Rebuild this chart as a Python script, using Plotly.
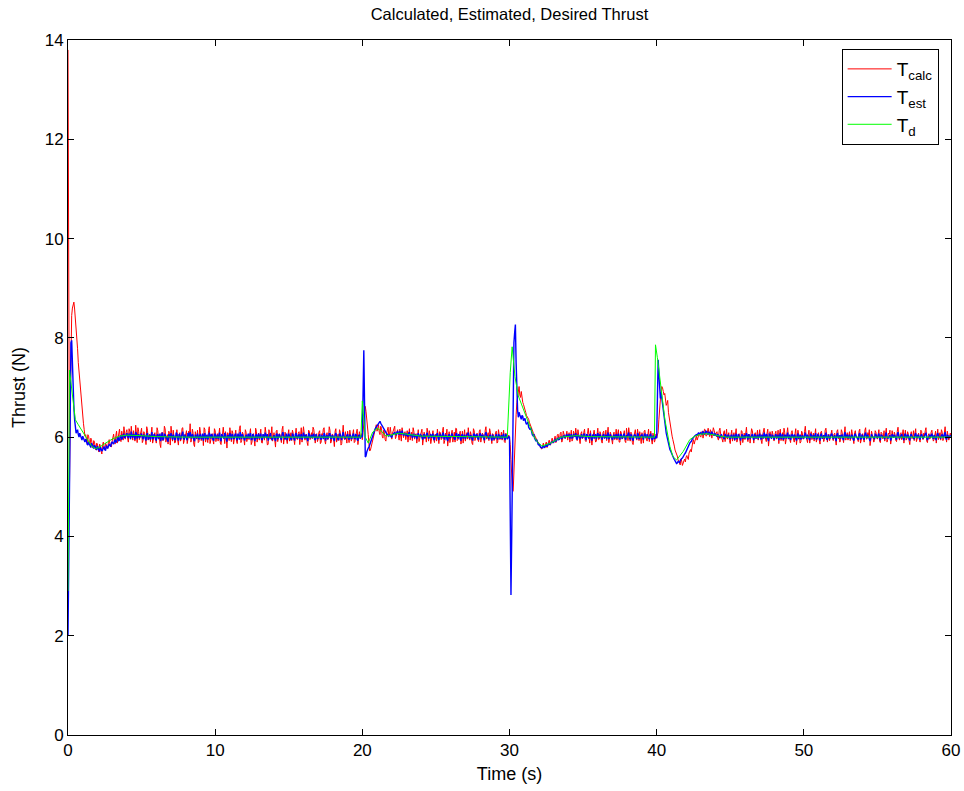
import numpy as np
import plotly.graph_objects as go

# T_calc (red), samples at t = 0.0, 0.1, ..., 60.0
t_calc = [
    13.80, 5.00, 8.20, 8.60, 8.72, 8.40, 8.00, 7.50, 7.10, 6.70,
    6.40, 6.15, 6.05, 5.88, 6.02, 5.84, 5.95, 5.78, 5.90, 5.74,
    5.86, 5.70, 5.82, 5.66, 5.90, 5.74, 5.85, 5.79, 5.95, 5.83,
    5.92, 6.06, 5.86, 6.12, 5.95, 6.16, 5.91, 6.05, 6.21, 5.96,
    6.15, 5.90, 6.11, 6.22, 5.94, 6.06, 6.24, 5.89, 6.12, 6.01,
    6.18, 5.93, 6.08, 5.85, 6.14, 6.02, 5.91, 6.20, 5.97, 6.09,
    5.88, 6.13, 6.04, 5.79, 6.10, 5.95, 6.17, 6.01, 5.86, 6.07,
    6.22, 5.92, 6.03, 5.90, 6.15, 5.84, 6.09, 5.98, 6.19, 5.93,
    6.05, 5.87, 6.12, 6.27, 5.96, 6.08, 5.81, 6.02, 6.14, 5.91,
    6.10, 5.97, 5.83, 6.16, 6.03, 5.89, 6.21, 5.95, 6.07, 5.86,
    6.13, 6.00, 5.92, 6.18, 5.85, 6.06, 5.94, 6.11, 5.78, 6.04,
    6.19, 5.91, 6.08, 5.96, 6.14, 5.87, 6.02, 6.23, 5.93, 6.06,
    5.84, 6.10, 6.01, 5.95, 6.17, 5.90, 6.07, 5.82, 6.12, 6.00,
    5.94, 6.16, 5.88, 6.05, 6.20, 5.97, 5.86, 6.11, 6.03, 5.92,
    6.09, 5.80, 6.14, 5.99, 6.06, 5.89, 6.22, 5.96, 6.04, 5.87,
    6.15, 6.02, 5.93, 6.08, 5.85, 6.18, 5.95, 6.11, 6.00, 5.90,
    6.21, 5.94, 6.06, 5.83, 6.12, 6.01, 5.97, 6.16, 5.88, 6.07,
    5.96, 6.13, 5.90, 6.04, 6.19, 5.86, 6.09, 5.98, 6.14, 5.92,
    6.05, 5.81, 6.17, 6.00, 5.93, 6.10, 5.87, 6.24, 5.95, 6.03,
    6.12, 5.89, 6.06, 5.97, 6.15, 5.91, 6.08, 5.85, 6.11, 6.00,
    5.95, 6.35, 6.62, 6.40, 6.05, 5.72, 5.80, 5.95, 6.08, 6.20,
    6.12, 6.25, 6.05, 6.18, 5.98, 6.10, 5.92, 6.14, 6.02, 6.20,
    5.96, 6.13, 6.22, 6.01, 6.15, 5.94, 6.08, 6.19, 5.99, 6.11,
    6.05, 5.90, 6.17, 6.02, 5.93, 6.12, 6.04, 5.88, 6.15, 5.97,
    6.08, 5.84, 6.10, 6.01, 6.18, 5.92, 6.06, 5.95, 6.13, 5.89,
    6.03, 6.16, 5.87, 6.09, 5.96, 6.20, 5.93, 6.05, 5.82, 6.11,
    5.98, 6.14, 6.02, 5.90, 6.17, 5.95, 6.07, 5.86, 6.12, 6.00,
    5.92, 6.09, 6.19, 5.94, 6.04, 5.85, 6.13, 5.99, 6.08, 5.91,
    6.15, 5.97, 6.06, 5.88, 6.21, 6.01, 5.93, 6.10, 5.87, 6.05,
    5.96, 6.12, 5.90, 6.07, 6.00, 5.94, 6.14, 5.89, 6.03, 5.98,
    5.98, 5.55, 4.92, 5.40, 6.15, 6.70, 6.98, 6.85, 6.92, 6.70,
    6.62, 6.50, 6.42, 6.36, 6.25, 6.20, 6.10, 6.04, 5.95, 5.92,
    5.85, 5.80, 5.76, 5.88, 5.78, 5.90, 5.82, 5.94, 5.85, 5.98,
    5.88, 6.02, 5.92, 6.06, 5.95, 6.10, 5.93, 6.04, 5.97, 6.12,
    6.01, 5.90, 6.14, 5.96, 6.08, 6.18, 5.93, 6.05, 5.87, 6.11,
    6.00, 6.16, 5.91, 6.07, 5.95, 6.13, 5.84, 6.09, 6.02, 5.92,
    6.18, 5.96, 6.06, 5.88, 6.12, 6.00, 5.93, 6.20, 5.97, 6.05,
    5.86, 6.10, 6.01, 5.94, 6.15, 5.90, 6.08, 5.98, 6.13, 5.89,
    6.04, 6.19, 5.92, 6.07, 5.85, 6.11, 5.99, 6.16, 5.93, 6.03,
    6.09, 5.88, 6.14, 5.97, 6.05, 5.91, 6.12, 5.86, 6.02, 5.95,
    5.98, 6.10, 6.60, 6.95, 6.99, 6.85, 6.75, 6.68, 6.50, 6.28,
    6.10, 5.95, 5.82, 5.70, 5.62, 5.50, 5.44, 5.52, 5.46, 5.56,
    5.60, 5.58, 5.68, 5.75, 5.85, 5.95, 5.92, 6.02, 5.98, 6.08,
    6.00, 6.12, 6.04, 6.15, 6.03, 6.18, 6.01, 6.10, 6.05, 6.14,
    6.03, 6.11, 5.94, 6.18, 6.02, 5.90, 6.13, 6.05, 5.96, 6.09,
    5.87, 6.14, 6.01, 5.93, 6.17, 5.98, 6.07, 5.84, 6.12, 6.00,
    5.95, 6.20, 5.91, 6.06, 5.99, 6.13, 5.88, 6.09, 6.02, 5.94,
    6.15, 5.90, 6.04, 6.18, 5.96, 6.08, 5.82, 6.11, 5.97, 6.06,
    5.93, 6.12, 6.00, 5.87, 6.16, 6.03, 5.92, 6.10, 5.95, 6.19,
    6.01, 5.89, 6.13, 5.96, 6.07, 5.85, 6.14, 6.02, 5.91, 6.08,
    5.97, 6.22, 5.94, 6.05, 5.88, 6.11, 6.00, 5.92, 6.17, 5.96,
    6.09, 5.86, 6.12, 6.03, 5.95, 6.18, 5.90, 6.06, 5.99, 6.14,
    5.93, 6.08, 5.84, 6.15, 6.01, 5.96, 6.10, 5.89, 6.21, 6.02,
    5.94, 6.11, 5.98, 6.06, 5.87, 6.13, 6.00, 5.91, 6.16, 5.95,
    6.07, 5.90, 6.19, 5.97, 6.04, 5.83, 6.12, 6.01, 5.93, 6.10,
    5.96, 6.15, 5.89, 6.08, 6.00, 5.92, 6.18, 5.95, 6.06, 5.86,
    6.13, 5.99, 6.05, 5.91, 6.20, 5.94, 6.09, 6.02, 5.88, 6.14,
    5.97, 6.06, 5.85, 6.11, 6.00, 5.93, 6.17, 5.96, 6.08, 5.90,
    6.12, 5.95, 6.03, 6.19, 5.89, 6.07, 5.98, 6.14, 5.92, 6.05,
    5.88, 6.16, 6.01, 5.94, 6.10, 5.97, 6.21, 5.90, 6.06, 5.99,
    6.04,
]

# T_calc (red), samples at t = 0.05, 0.15, ..., 59.95
t_calc_mid = [
    9.50, 6.60, 8.45, 8.68, 8.58, 8.20, 7.78, 7.30, 6.90, 6.55,
    6.28, 6.02, 5.93, 6.05, 5.90, 5.98, 5.82, 5.93, 5.80, 5.88,
    5.76, 5.86, 5.72, 5.84, 5.80, 5.88, 5.77, 5.90, 5.86, 5.80,
    6.00, 5.93, 6.03, 5.88, 6.08, 5.97, 6.12, 5.94, 6.02, 6.10,
    5.98, 6.17, 5.96, 6.04, 6.13, 5.92, 6.08, 6.19, 5.95, 6.07,
    5.89, 6.11, 6.00, 6.21, 5.94, 6.06, 6.15, 5.88, 6.04, 5.96,
    6.19, 5.97, 5.86, 6.08, 5.93, 6.22, 5.90, 6.05, 6.12, 5.84,
    6.02, 6.14, 5.88, 6.09, 5.95, 6.04, 5.92, 6.18, 5.87, 6.06,
    6.13, 5.96, 6.01, 5.90, 6.16, 5.85, 6.11, 5.96, 5.89, 6.20,
    5.93, 6.06, 6.19, 5.90, 5.98, 6.13, 5.87, 6.04, 5.94, 6.17,
    5.91, 6.07, 6.15, 5.88, 6.03, 6.20, 5.87, 6.02, 6.09, 5.93,
    6.00, 6.13, 5.86, 6.11, 5.92, 6.05, 6.17, 5.89, 6.10, 5.96,
    6.15, 5.91, 6.06, 6.12, 5.85, 6.03, 5.95, 6.18, 5.90, 6.08,
    6.11, 5.89, 6.02, 5.94, 6.09, 5.84, 6.15, 5.96, 6.21, 6.04,
    5.94, 6.12, 5.91, 6.07, 5.97, 6.16, 5.86, 6.10, 5.93, 6.05,
    5.92, 6.09, 6.14, 5.87, 6.04, 5.96, 6.08, 5.85, 6.19, 6.03,
    6.08, 6.02, 5.89, 6.14, 5.95, 6.09, 6.20, 5.93, 6.04, 5.91,
    6.10, 5.87, 6.07, 6.16, 5.93, 6.02, 5.95, 6.21, 5.88, 6.06,
    5.95, 6.12, 5.90, 6.06, 6.15, 5.84, 6.09, 5.97, 6.11, 5.88,
    5.97, 6.14, 5.92, 6.08, 5.89, 6.03, 6.16, 5.95, 6.02, 6.07,
    6.10, 6.55, 6.52, 6.22, 5.86, 5.74, 5.88, 6.02, 6.14, 6.25,
    6.18, 6.10, 6.22, 6.02, 6.14, 5.95, 6.08, 6.20, 6.06, 5.99,
    6.08, 6.19, 5.97, 6.10, 6.04, 6.16, 5.92, 6.12, 6.06, 5.95,
    6.13, 6.08, 5.94, 6.10, 6.19, 5.96, 6.07, 6.15, 5.91, 6.04,
    6.16, 5.97, 6.04, 5.90, 6.09, 6.13, 5.87, 6.10, 5.96, 6.06,
    5.92, 6.04, 6.11, 5.95, 6.13, 5.87, 6.08, 6.16, 5.97, 5.89,
    6.07, 5.90, 6.10, 6.18, 5.93, 6.05, 6.12, 5.96, 5.88, 6.15,
    6.04, 5.96, 6.02, 6.11, 5.88, 6.17, 5.93, 6.06, 5.95, 6.12,
    5.90, 6.08, 5.94, 6.14, 5.96, 6.09, 6.17, 5.89, 6.07, 5.93,
    6.09, 5.88, 6.15, 5.95, 6.10, 6.06, 5.91, 6.08, 5.96, 6.04,
    5.85, 5.20, 4.91, 5.75, 6.45, 6.82, 7.02, 6.80, 6.78, 6.66,
    6.58, 6.44, 6.40, 6.30, 6.24, 6.14, 6.07, 5.99, 5.94, 5.86,
    5.82, 5.77, 5.84, 5.80, 5.86, 5.79, 5.90, 5.84, 5.93, 5.90,
    5.96, 5.89, 6.04, 5.97, 6.08, 5.90, 6.12, 6.01, 6.06, 5.94,
    6.09, 6.04, 5.92, 6.12, 6.00, 5.96, 6.15, 5.89, 6.07, 5.97,
    6.10, 5.93, 6.04, 6.18, 5.88, 6.03, 5.98, 6.14, 5.90, 6.07,
    5.95, 6.11, 5.92, 6.09, 5.97, 6.14, 6.06, 5.89, 6.10, 5.93,
    6.04, 5.95, 6.16, 6.07, 5.90, 6.12, 5.96, 6.05, 5.92, 6.18,
    5.93, 6.06, 6.10, 5.89, 6.02, 6.15, 5.94, 6.06, 6.11, 5.87,
    5.96, 6.12, 6.01, 5.92, 6.16, 6.04, 5.95, 6.08, 5.90, 6.06,
    6.02, 6.35, 6.80, 7.02, 6.92, 6.88, 6.64, 6.74, 6.38, 6.20,
    6.02, 5.90, 5.74, 5.68, 5.55, 5.47, 5.56, 5.43, 5.52, 5.50,
    5.63, 5.55, 5.72, 5.70, 5.90, 5.86, 6.00, 5.94, 6.06, 6.02,
    6.08, 5.98, 6.16, 6.02, 6.12, 6.07, 6.15, 5.98, 6.19, 6.04,
    6.08, 5.97, 6.14, 6.06, 5.95, 6.10, 5.91, 6.16, 6.03, 5.93,
    6.05, 5.92, 6.09, 6.15, 5.90, 6.04, 5.96, 6.13, 5.89, 6.08,
    6.11, 5.98, 6.04, 5.88, 6.17, 5.94, 6.05, 5.97, 6.14, 6.02,
    6.00, 5.87, 6.13, 6.02, 5.91, 6.16, 5.95, 6.04, 6.12, 5.93,
    6.07, 5.96, 6.14, 6.06, 5.93, 6.09, 6.18, 5.86, 6.04, 6.01,
    5.95, 6.09, 6.02, 5.90, 6.17, 5.97, 6.04, 5.88, 6.12, 5.96,
    6.11, 6.03, 5.89, 6.14, 6.00, 5.95, 6.08, 6.13, 5.90, 6.05,
    5.94, 6.10, 5.97, 5.91, 6.14, 6.04, 6.00, 5.93, 6.09, 5.98,
    6.06, 5.95, 6.12, 5.97, 5.90, 6.15, 5.98, 6.07, 5.94, 6.09,
    6.04, 5.93, 6.15, 5.92, 6.09, 6.00, 5.96, 6.12, 5.88, 6.06,
    5.98, 6.14, 5.96, 6.09, 6.15, 5.94, 6.05, 5.90, 6.13, 5.99,
    6.05, 5.92, 6.10, 5.97, 6.13, 6.05, 5.90, 6.08, 6.14, 5.96,
    6.02, 6.10, 5.93, 6.12, 6.00, 6.07, 5.95, 6.15, 6.03, 5.94,
    6.11, 5.93, 6.04, 5.97, 6.13, 6.08, 5.91, 6.05, 5.96, 6.14,
    5.99, 6.08, 6.13, 5.92, 6.04, 5.96, 6.10, 6.01, 5.95, 6.12,
    6.03, 5.95, 6.09, 6.15, 5.93, 6.06, 6.00, 6.12, 5.94, 6.08,
]

# T_est (blue), samples at t = 0.0, 0.1, ..., 60.0
t_est = [
    2.00, 5.60, 7.90, 7.40, 6.60, 6.20, 6.12, 6.05, 6.08, 5.98,
    6.02, 5.92, 5.96, 5.86, 5.90, 5.82, 5.88, 5.80, 5.84, 5.76,
    5.82, 5.74, 5.80, 5.72, 5.78, 5.75, 5.83, 5.77, 5.86, 5.81,
    5.90, 5.86, 5.95, 5.91, 6.00, 5.94, 6.03, 5.97, 6.06, 6.00,
    6.08, 5.98, 6.05, 6.11, 5.99, 6.04, 6.09, 5.97, 6.06, 6.01,
    6.07, 5.96, 6.03, 5.93, 6.08, 6.00, 5.95, 6.10, 5.98, 6.04,
    5.94, 6.06, 6.01, 5.92, 6.09, 5.97, 6.05, 6.00, 5.91, 6.03,
    6.08, 5.95, 6.02, 5.96, 6.07, 5.93, 6.04, 5.99, 6.11, 5.96,
    6.02, 5.94, 6.06, 6.10, 5.97, 6.03, 5.92, 6.01, 6.07, 5.95,
    6.05, 5.99, 5.93, 6.08, 6.01, 5.95, 6.09, 5.97, 6.04, 5.93,
    6.06, 6.00, 5.96, 6.09, 5.92, 6.03, 5.97, 6.06, 5.91, 6.02,
    6.08, 5.95, 6.04, 5.98, 6.07, 5.94, 6.01, 6.10, 5.96, 6.03,
    5.93, 6.05, 6.00, 5.97, 6.08, 5.95, 6.04, 5.92, 6.06, 6.00,
    5.97, 6.07, 5.94, 6.03, 6.09, 5.98, 5.93, 6.05, 6.01, 5.96,
    6.04, 5.92, 6.07, 5.99, 6.03, 5.94, 6.10, 5.98, 6.02, 5.94,
    6.07, 6.01, 5.96, 6.04, 5.93, 6.08, 5.97, 6.05, 6.00, 5.95,
    6.09, 5.97, 6.03, 5.92, 6.06, 6.00, 5.98, 6.07, 5.94, 6.03,
    5.98, 6.06, 5.95, 6.02, 6.08, 5.93, 6.04, 5.99, 6.07, 5.96,
    6.02, 5.92, 6.08, 6.00, 5.96, 6.05, 5.94, 6.10, 5.97, 6.01,
    6.06, 5.95, 6.03, 5.98, 6.07, 5.96, 6.04, 5.93, 6.05, 6.00,
    6.00, 7.75, 5.60, 5.70, 5.78, 5.85, 5.92, 6.02, 6.10, 6.18,
    6.22, 6.26, 6.32, 6.25, 6.20, 6.14, 6.10, 6.06, 6.02, 6.04,
    6.00, 6.06, 6.10, 6.04, 6.12, 6.05, 6.09, 6.13, 6.03, 6.08,
    6.06, 6.01, 6.10, 6.04, 5.98, 6.07, 6.03, 5.96, 6.08, 6.00,
    6.04, 5.95, 6.06, 6.01, 6.09, 5.97, 6.03, 5.98, 6.07, 5.94,
    6.02, 6.08, 5.94, 6.05, 5.98, 6.09, 5.96, 6.03, 5.92, 6.06,
    5.99, 6.07, 6.01, 5.95, 6.08, 5.97, 6.04, 5.93, 6.06, 6.00,
    5.96, 6.05, 6.09, 5.97, 6.02, 5.93, 6.07, 5.99, 6.04, 5.95,
    6.08, 5.98, 6.03, 5.94, 6.10, 6.00, 5.96, 6.05, 5.93, 6.02,
    5.97, 6.06, 5.95, 6.04, 6.00, 5.96, 6.07, 5.94, 6.02, 5.99,
    6.00, 2.82, 5.40, 7.90, 8.27, 6.90, 6.40, 6.45, 6.36, 6.42,
    6.35, 6.30, 6.28, 6.20, 6.15, 6.08, 6.03, 5.98, 5.92, 5.88,
    5.84, 5.80, 5.78, 5.82, 5.80, 5.84, 5.83, 5.86, 5.88, 5.91,
    5.90, 5.95, 5.93, 5.98, 5.96, 6.01, 5.98, 6.03, 6.00, 6.05,
    6.02, 5.97, 6.06, 5.99, 6.04, 6.08, 5.95, 6.03, 5.96, 6.06,
    6.00, 6.07, 5.94, 6.04, 5.97, 6.06, 5.93, 6.05, 6.01, 5.96,
    6.08, 5.98, 6.03, 5.95, 6.06, 6.00, 5.96, 6.09, 5.98, 6.02,
    5.94, 6.05, 6.01, 5.97, 6.07, 5.95, 6.04, 5.99, 6.06, 5.95,
    6.02, 6.09, 5.96, 6.04, 5.93, 6.05, 6.00, 6.07, 5.96, 6.02,
    6.05, 5.95, 6.07, 5.98, 6.03, 5.96, 6.06, 5.94, 6.01, 5.98,
    5.98, 7.56, 7.10, 6.90, 6.65, 6.40, 6.20, 6.00, 5.85, 5.75,
    5.68, 5.60, 5.55, 5.50, 5.48, 5.50, 5.53, 5.57, 5.62, 5.66,
    5.72, 5.78, 5.84, 5.90, 5.95, 5.99, 6.03, 6.05, 6.07, 6.06,
    6.09, 6.06, 6.10, 6.07, 6.11, 6.05, 6.09, 6.06, 6.08, 6.03,
    6.06, 6.01, 6.04, 5.98, 6.05, 6.00, 5.96, 6.04, 5.99, 6.03,
    5.96, 6.05, 6.01, 5.94, 6.07, 5.99, 6.03, 5.93, 6.06, 6.00,
    5.97, 6.08, 5.95, 6.03, 6.00, 6.06, 5.94, 6.04, 6.01, 5.96,
    6.07, 5.95, 6.02, 6.09, 5.97, 6.04, 5.92, 6.05, 5.98, 6.03,
    5.96, 6.06, 6.00, 5.94, 6.08, 6.01, 5.95, 6.05, 5.97, 6.09,
    6.01, 5.94, 6.06, 5.98, 6.03, 5.93, 6.07, 6.01, 5.95, 6.04,
    5.98, 6.09, 5.96, 6.02, 5.94, 6.05, 6.00, 5.96, 6.08, 5.97,
    6.04, 5.93, 6.06, 6.01, 5.97, 6.09, 5.95, 6.03, 5.99, 6.07,
    5.96, 6.04, 5.92, 6.07, 6.00, 5.97, 6.05, 5.94, 6.10, 6.01,
    5.97, 6.05, 5.99, 6.03, 5.93, 6.06, 6.00, 5.95, 6.08, 5.97,
    6.03, 5.95, 6.09, 5.98, 6.02, 5.92, 6.06, 6.00, 5.96, 6.05,
    5.98, 6.07, 5.94, 6.04, 6.00, 5.96, 6.09, 5.97, 6.03, 5.93,
    6.06, 5.99, 6.02, 5.95, 6.10, 5.97, 6.04, 6.01, 5.94, 6.07,
    5.98, 6.03, 5.93, 6.06, 6.00, 5.96, 6.08, 5.98, 6.04, 5.95,
    6.06, 5.97, 6.02, 6.09, 5.94, 6.03, 5.99, 6.07, 5.96, 6.02,
    5.94, 6.08, 6.00, 5.97, 6.05, 5.98, 6.10, 5.95, 6.03, 6.00,
    6.02,
]

# T_est (blue), samples at t = 0.05, 0.15, ..., 59.95
t_est_mid = [
    3.50, 6.90, 7.95, 7.00, 6.35, 6.08, 6.15, 6.00, 6.04, 5.94,
    5.97, 5.90, 5.93, 5.84, 5.87, 5.79, 5.85, 5.77, 5.81, 5.74,
    5.79, 5.71, 5.77, 5.74, 5.81, 5.73, 5.80, 5.82, 5.84, 5.88,
    5.88, 5.92, 5.89, 5.97, 5.93, 6.02, 5.96, 6.05, 5.99, 6.04,
    6.02, 6.07, 5.96, 6.03, 6.06, 5.95, 6.08, 6.02, 5.98, 6.05,
    5.99, 6.05, 5.97, 6.06, 5.95, 6.04, 6.07, 5.96, 6.06, 5.95,
    6.03, 5.96, 6.07, 6.01, 5.94, 6.06, 5.99, 5.94, 6.06, 5.98,
    6.01, 6.05, 5.94, 6.09, 5.98, 6.06, 5.95, 6.03, 5.97, 6.05,
    5.97, 6.08, 5.98, 6.02, 6.06, 5.95, 6.05, 5.97, 6.00, 6.04,
    5.96, 6.07, 6.02, 5.96, 6.05, 5.99, 6.04, 6.06, 5.95, 6.06,
    5.97, 6.05, 6.03, 5.95, 6.06, 5.98, 6.08, 5.96, 6.04, 5.97,
    6.02, 6.06, 5.96, 6.05, 5.97, 6.07, 5.95, 6.03, 6.06, 5.98,
    6.04, 5.97, 6.07, 6.02, 5.95, 6.06, 5.97, 6.03, 5.96, 6.07,
    6.03, 5.96, 6.06, 5.98, 6.01, 6.06, 5.97, 6.08, 5.95, 6.04,
    5.97, 6.05, 5.96, 6.06, 5.97, 6.05, 6.03, 5.95, 6.07, 5.99,
    6.02, 5.95, 6.07, 5.97, 6.06, 6.00, 6.04, 5.96, 6.06, 5.98,
    6.03, 6.05, 5.96, 6.07, 5.98, 6.05, 6.03, 5.96, 6.06, 5.97,
    6.05, 5.97, 6.03, 5.96, 6.05, 6.01, 5.96, 6.07, 5.98, 6.04,
    5.96, 6.05, 6.03, 5.95, 6.07, 5.98, 6.04, 6.02, 5.96, 6.06,
    5.97, 6.05, 5.96, 6.04, 5.98, 6.06, 5.95, 6.03, 5.97, 6.04,
    7.00, 6.70, 5.62, 5.76, 5.80, 5.90, 5.96, 6.06, 6.15, 6.20,
    6.25, 6.30, 6.28, 6.23, 6.17, 6.12, 6.07, 6.04, 6.05, 6.01,
    6.04, 6.09, 6.06, 6.10, 6.07, 6.12, 6.05, 6.09, 6.06, 6.03,
    6.04, 6.08, 6.02, 6.06, 6.03, 6.00, 6.05, 6.02, 6.03, 6.05,
    5.99, 6.04, 5.97, 6.05, 6.03, 6.00, 6.06, 6.03, 5.96, 6.04,
    6.05, 5.98, 6.04, 6.01, 6.06, 5.97, 6.05, 5.96, 6.03, 5.98,
    6.04, 6.02, 5.97, 6.05, 6.02, 6.06, 5.96, 6.04, 5.97, 6.05,
    6.02, 6.06, 5.99, 6.04, 5.97, 6.05, 6.02, 6.06, 5.97, 6.04,
    6.03, 6.05, 5.97, 6.06, 6.04, 5.97, 6.03, 5.98, 6.05, 5.96,
    6.04, 5.99, 6.05, 5.97, 6.04, 6.03, 5.98, 6.06, 5.96, 6.01,
    4.20, 4.00, 6.80, 8.10, 7.50, 6.55, 6.50, 6.38, 6.44, 6.33,
    6.38, 6.26, 6.31, 6.17, 6.18, 6.05, 6.06, 5.94, 5.95, 5.85,
    5.86, 5.78, 5.81, 5.79, 5.83, 5.81, 5.87, 5.85, 5.90, 5.89,
    5.93, 5.92, 5.97, 5.95, 5.99, 5.97, 6.02, 5.99, 6.04, 6.01,
    6.06, 6.02, 5.98, 6.05, 6.01, 5.97, 6.05, 6.00, 6.04, 5.98,
    6.05, 5.98, 6.06, 5.99, 6.05, 5.97, 6.04, 5.97, 6.06, 6.03,
    6.02, 6.06, 5.97, 6.04, 5.98, 6.05, 6.03, 5.97, 6.06, 5.96,
    6.02, 5.97, 6.06, 6.03, 5.98, 6.06, 5.97, 6.05, 5.98, 6.04,
    6.06, 5.97, 6.05, 5.96, 6.02, 6.04, 5.96, 6.06, 6.00, 6.04,
    5.97, 6.04, 6.00, 6.06, 5.97, 6.05, 5.98, 6.03, 5.97, 6.02,
    7.25, 7.30, 6.78, 6.80, 6.50, 6.32, 6.08, 5.95, 5.78, 5.72,
    5.62, 5.58, 5.51, 5.47, 5.51, 5.49, 5.56, 5.58, 5.65, 5.68,
    5.75, 5.80, 5.88, 5.91, 5.98, 6.01, 6.05, 6.04, 6.09, 6.08,
    6.07, 6.11, 6.06, 6.12, 6.07, 6.10, 6.04, 6.10, 6.05, 6.07,
    6.03, 6.06, 6.00, 6.04, 6.02, 5.97, 6.06, 6.01, 6.05, 5.98,
    6.03, 5.97, 6.05, 6.02, 5.96, 6.06, 5.99, 6.05, 5.97, 6.04,
    6.03, 6.02, 6.06, 5.97, 6.04, 5.99, 6.05, 5.97, 6.05, 6.02,
    6.00, 6.05, 5.97, 6.04, 6.06, 5.97, 6.06, 5.99, 6.04, 5.97,
    6.03, 5.98, 6.05, 6.02, 5.96, 6.06, 5.97, 6.03, 6.06, 5.96,
    6.05, 5.99, 6.02, 6.05, 5.97, 6.04, 5.96, 6.05, 6.01, 5.98,
    6.04, 6.02, 6.05, 5.97, 6.06, 5.98, 6.04, 6.03, 5.96, 6.05,
    5.98, 6.05, 5.97, 6.04, 6.06, 5.96, 6.04, 5.97, 6.05, 6.02,
    6.00, 5.97, 6.06, 5.99, 6.04, 6.03, 5.97, 6.05, 5.99, 6.05,
    6.02, 5.97, 6.04, 5.96, 6.05, 6.02, 5.98, 6.06, 5.96, 6.04,
    5.97, 6.06, 6.02, 6.05, 5.96, 6.04, 6.02, 5.97, 6.06, 6.00,
    6.04, 5.97, 6.05, 6.02, 5.97, 6.06, 6.02, 5.99, 6.04, 5.97,
    6.03, 6.05, 5.97, 6.06, 6.02, 6.00, 6.06, 5.96, 6.05, 6.01,
    6.05, 5.97, 6.04, 6.02, 5.97, 6.05, 6.01, 6.04, 5.98, 6.03,
    6.02, 5.99, 6.06, 6.00, 5.98, 6.05, 6.03, 6.00, 6.04, 5.97,
    6.05, 6.03, 5.97, 6.04, 6.02, 6.06, 5.98, 6.04, 5.99, 6.03,
]

# T_d (green), breakpoints (time, thrust)
td_time = [0, 0.05, 0.1, 0.2, 0.3, 0.4, 0.5, 0.7, 1.0, 1.3, 1.6, 1.85, 2.1, 2.5, 3.0, 3.5,
           4.0, 5.0, 6.0, 8.0, 19.9,
           20.0, 20.1, 20.2, 20.4, 20.7, 21.0, 21.3, 21.6, 22.0, 22.5, 23.0, 24.0, 29.85,
           29.95, 30.05, 30.18, 30.37, 30.6, 31.16, 31.6, 31.84, 32.2, 32.8, 33.5, 34.5, 35.5, 39.85,
           39.92, 40.05, 40.33, 40.56, 40.9, 41.1, 41.35, 41.8, 42.25, 42.6, 43.0, 43.4, 44.0, 44.7, 60]
td_val = [2.9, 7.3, 7.35, 7.1, 6.8, 6.5, 6.35, 6.25, 6.1, 5.95, 5.82, 5.77, 5.79, 5.87, 5.96, 6.02,
          6.04, 6.03, 6.01, 6.0, 6.0,
          6.73, 6.35, 6.0, 5.88, 6.1, 6.18, 6.12, 6.02, 6.04, 6.08, 6.06, 6.02, 6.0,
          6.8, 7.3, 7.82, 7.22, 6.83, 6.39, 6.05, 5.92, 5.82, 5.88, 6.0, 6.03, 6.01, 6.0,
          7.86, 7.6, 6.89, 6.35, 5.81, 5.61, 5.54, 5.71, 5.95, 6.02, 6.06, 6.07, 6.04, 6.0, 6.0]

x_ticks = [0, 10, 20, 30, 40, 50, 60]
y_ticks = [0, 2, 4, 6, 8, 10, 12, 14]


def merge(on_grid, mid_grid, dt=0.1):
    """Combine samples taken on the 0.1 s grid with those taken halfway between."""
    t_a = np.arange(len(on_grid)) * dt
    t_b = np.arange(len(mid_grid)) * dt + dt / 2
    t = np.concatenate([t_a, t_b])
    v = np.concatenate([np.asarray(on_grid, float), np.asarray(mid_grid, float)])
    order = np.argsort(t, kind="stable")
    return np.round(t[order], 3), v[order]


calc_t, calc_v = merge(t_calc, t_calc_mid)
est_t, est_v = merge(t_est, t_est_mid)

FONT = "Liberation Sans, Arial, Helvetica, sans-serif"

fig = go.Figure()
fig.add_trace(go.Scatter(x=calc_t, y=calc_v, mode="lines", name="T<sub>calc</sub>",
                         line=dict(color="#ff0000", width=1)))
fig.add_trace(go.Scatter(x=est_t, y=est_v, mode="lines", name="T<sub>est</sub>",
                         line=dict(color="#0000ff", width=1.4)))
fig.add_trace(go.Scatter(x=td_time, y=td_val, mode="lines", name="T<sub>d</sub>",
                         line=dict(color="#00ff00", width=1)))

axis_common = dict(
    showline=True, linecolor="black", linewidth=1, mirror="ticks",
    ticks="inside", ticklen=6, tickcolor="black", tickwidth=1,
    showgrid=False, zeroline=False, automargin=False,
    tickfont=dict(family=FONT, size=17, color="black"),
)

fig.update_layout(
    width=964, height=791,
    margin=dict(l=68, r=13, t=40, b=56, autoexpand=False),
    paper_bgcolor="white", plot_bgcolor="white",
    title=dict(text="Calculated, Estimated, Desired Thrust", x=0.5, xanchor="center",
               xref="paper",
               y=1 - 14 / 791, yanchor="middle",
               font=dict(family=FONT, size=16.5, color="black")),
    xaxis=dict(range=[0, 60], tickvals=x_ticks,
               title=dict(text="Time (s)", font=dict(family=FONT, size=18, color="black"), standoff=7),
               **axis_common),
    yaxis=dict(range=[0, 14], tickvals=y_ticks,
               title=dict(text="Thrust (N)", font=dict(family=FONT, size=18, color="black"), standoff=14),
               **axis_common),
    legend=dict(x=0.986, y=0.987, xanchor="right", yanchor="top",
                bgcolor="white", bordercolor="black", borderwidth=1,
                font=dict(family=FONT, size=19, color="black"),
                itemwidth=44, tracegroupgap=0),
    showlegend=True,
)

fig.write_html("out.html")
